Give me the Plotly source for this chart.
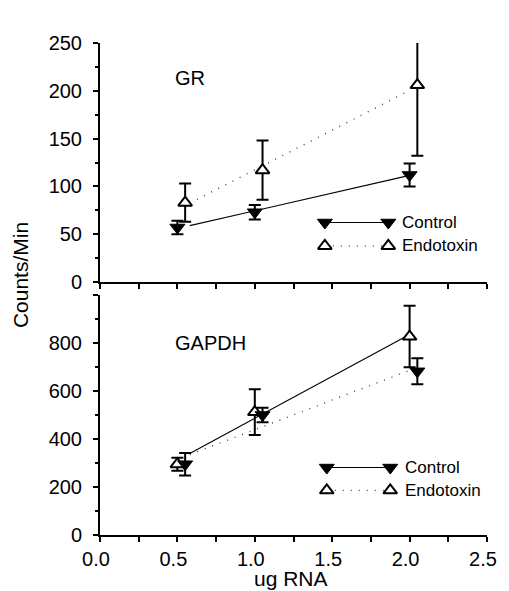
import numpy as np
import plotly.graph_objects as go

# ---------------- data ----------------
x_ticks = [0.0, 0.5, 1.0, 1.5, 2.0, 2.5]
x_tick_labels = ["0.0", "0.5", "1.0", "1.5", "2.0", "2.5"]

# GR panel
gr_control_x = [0.50, 1.00, 2.00]
gr_control = [57, 73, 112]
gr_control_err = [7, 7.5, 12]
gr_endo_x = [0.55, 1.05, 2.05]
gr_endo = [83, 117, 206]
gr_endo_err = [20, 31, 74]

# GAPDH panel
gapdh_control_x = [0.55, 1.05, 2.05]
gapdh_control = [295, 500, 682]
gapdh_control_err = [47, 30, 54]
gapdh_endo_x = [0.50, 1.00, 2.00]
gapdh_endo = [295, 512, 827]
gapdh_endo_err = [27, 95, 128]

gr_y_ticks = [0, 50, 100, 150, 200, 250]
gapdh_y_ticks = [0, 200, 400, 600, 800, 1000]
gapdh_y_labels = ["0", "200", "400", "600", "800", ""]

fit_x = np.array([0.58, 2.0])

FONT = "Liberation Sans, Arial, Helvetica, sans-serif"

def fit(xs, ys):
    k, b = np.polyfit(xs, ys, 1)
    return k * fit_x + b

fig = go.Figure()

solid = dict(color="black", width=1.1)
dotted = dict(color="#444", width=1.4, dash="1px,7px")

ctrl_marker = dict(symbol="triangle-down", size=13, color="black",
                   line=dict(color="black", width=1))
endo_marker = dict(symbol="triangle-up", size=12, color="white",
                   line=dict(color="black", width=2))

def add_panel(xa, ya, cx, cy, ce, ex, ey, ee, ctrl_line, endo_line):
    fig.add_trace(go.Scatter(x=fit_x, y=fit(cx, cy), mode="lines", line=ctrl_line,
                             xaxis=xa, yaxis=ya, showlegend=False, hoverinfo="skip"))
    fig.add_trace(go.Scatter(x=fit_x, y=fit(ex, ey), mode="lines", line=endo_line,
                             xaxis=xa, yaxis=ya, showlegend=False, hoverinfo="skip"))
    fig.add_trace(go.Scatter(x=ex, y=ey, mode="markers", marker=endo_marker,
                             error_y=dict(type="data", array=ee, color="black",
                                          thickness=2, width=6),
                             xaxis=xa, yaxis=ya, showlegend=False))
    fig.add_trace(go.Scatter(x=cx, y=cy, mode="markers", marker=ctrl_marker,
                             error_y=dict(type="data", array=ce, color="black",
                                          thickness=2, width=6),
                             xaxis=xa, yaxis=ya, showlegend=False))

# top panel: GR (x, y); bottom panel: GAPDH (x2, y2)
add_panel("x", "y", gr_control_x, gr_control, gr_control_err,
          gr_endo_x, gr_endo, gr_endo_err, solid, dotted)
add_panel("x2", "y2", gapdh_control_x, gapdh_control, gapdh_control_err,
          gapdh_endo_x, gapdh_endo, gapdh_endo_err, dotted, solid)

# custom legends on overlay axes (x3/y3 over top panel, x4/y4 over bottom panel)
def add_legend(xa, ya, rows, x_left, x_right, x_text, xref, yref):
    for (name, marker, line, yy) in rows:
        fig.add_trace(go.Scatter(x=[x_left, x_right], y=[yy, yy], mode="lines+markers",
                                 marker=marker, line=line, xaxis=xa, yaxis=ya,
                                 showlegend=False, hoverinfo="skip"))
        fig.add_annotation(x=x_text, y=yy, xref=xref, yref=yref, text=name,
                           showarrow=False, xanchor="left", yanchor="middle",
                           font=dict(family=FONT, size=17, color="black"))

add_legend("x3", "y3",
           [("Control", ctrl_marker, solid, 0.249), ("Endotoxin", endo_marker, dotted, 0.151)],
           0.581, 0.745, 0.776, "x3", "y3")
add_legend("x4", "y4",
           [("Control", ctrl_marker, solid, 0.281), ("Endotoxin", endo_marker, dotted, 0.186)],
           0.586, 0.750, 0.783, "x4", "y4")

axis_common = dict(showline=True, linewidth=2, linecolor="black", showgrid=False,
                   zeroline=False, ticks="outside", tickcolor="black", tickwidth=1.5,
                   ticklen=5, tickfont=dict(family=FONT, size=20, color="black"))

fig.update_layout(
    width=509, height=591,
    margin=dict(l=100, r=13, t=43, b=56),
    paper_bgcolor="white", plot_bgcolor="white",
    showlegend=False,
    xaxis=dict(axis_common, domain=[0, 1], range=[0, 2.5], anchor="y",
               tickvals=x_ticks, showticklabels=False,
               minor=dict(dtick=0.25, ticklen=5, ticks="outside", tickcolor="black", tickwidth=1.5)),
    yaxis=dict(axis_common, domain=[0.5142, 1], range=[0, 250], anchor="x",
               tickvals=gr_y_ticks, ticklabelstandoff=7,
               minor=dict(dtick=25, ticklen=3, ticks="outside", tickcolor="black", tickwidth=1.5)),
    xaxis2=dict(axis_common, domain=[0, 1], range=[0, 2.5], anchor="y2",
                tickvals=x_ticks, ticktext=x_tick_labels, ticklabelstandoff=0,
                ticklabelshift=-4,
                minor=dict(dtick=0.25, ticklen=5, ticks="outside", tickcolor="black", tickwidth=1.5)),
    yaxis2=dict(axis_common, domain=[0, 0.4878], range=[0, 1000], anchor="x2",
                tickvals=gapdh_y_ticks, ticktext=gapdh_y_labels, ticklabelstandoff=7,
                minor=dict(dtick=100, ticklen=3, ticks="outside", tickcolor="black", tickwidth=1.5)),
    xaxis3=dict(overlaying="x", range=[0, 1], visible=False, anchor="y3"),
    yaxis3=dict(overlaying="y", range=[0, 1], visible=False, anchor="x3"),
    xaxis4=dict(overlaying="x2", range=[0, 1], visible=False, anchor="y4"),
    yaxis4=dict(overlaying="y2", range=[0, 1], visible=False, anchor="x4"),
)

# panel labels
fig.add_annotation(x=0.474, y=213, xref="x", yref="y", text="GR", showarrow=False,
                   xanchor="left", yanchor="middle",
                   font=dict(family=FONT, size=20, color="black"))
fig.add_annotation(x=0.474, y=802, xref="x2", yref="y2", text="GAPDH", showarrow=False,
                   xanchor="left", yanchor="middle",
                   font=dict(family=FONT, size=20, color="black"))

# axis titles
fig.add_annotation(x=-0.207, y=0.528, xref="paper", yref="paper", text="Counts/Min",
                   textangle=-90, showarrow=False, xanchor="center", yanchor="middle",
                   font=dict(family=FONT, size=21, color="black"))
fig.add_annotation(x=0.494, y=-0.088, xref="paper", yref="paper", text="ug RNA",
                   showarrow=False, xanchor="center", yanchor="middle",
                   font=dict(family=FONT, size=21, color="black"))

# remove the default 8px page margin so the figure fills the window exactly
fig.write_html("out.html", config={"displayModeBar": False},
               post_script="document.body.style.margin='0';document.body.style.overflow='hidden';")
